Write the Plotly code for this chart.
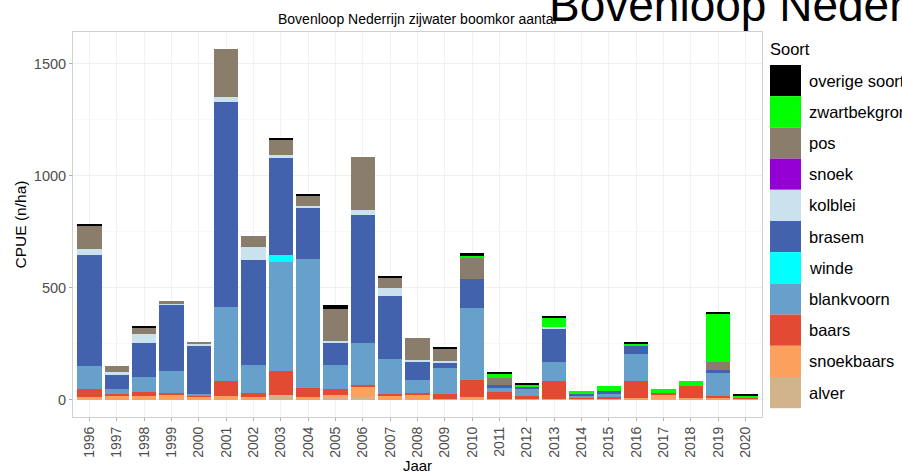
import plotly.graph_objects as go

# Jaren en soorten (stapelvolgorde van onder naar boven)
jaren = [str(j) for j in range(1996, 2021)]

alver = [3, 0, 0, 0, 0, 0, 0, 22, 0, 12, 12, 0, 0, 0, 0, 0, 0, 0, 0, 0, 0, 3, 0, 0, 0]
snoekbaars = [10, 15, 15, 19, 10, 18, 12, 0, 12, 10, 44, 20, 22, 3, 12, 3, 3, 3, 3, 3, 8, 17, 7, 8, 3]
baars = [33, 12, 18, 11, 9, 67, 18, 105, 40, 26, 11, 3, 8, 24, 74, 30, 12, 82, 8, 9, 77, 11, 55, 10, 8]
blankvoorn = [104, 18, 67, 97, 6, 327, 123, 487, 577, 108, 186, 157, 59, 114, 323, 19, 34, 82, 8, 17, 120, 0, 0, 101, 0]
winde = [0, 0, 0, 0, 0, 0, 0, 30, 0, 0, 0, 0, 0, 0, 0, 0, 0, 0, 0, 0, 0, 0, 0, 0, 0]
brasem = [494, 65, 153, 296, 213, 920, 469, 438, 227, 97, 570, 282, 81, 26, 131, 12, 6, 151, 8, 8, 33, 0, 0, 15, 0]
kolblei = [31, 12, 40, 4, 12, 22, 59, 12, 11, 7, 25, 35, 5, 4, 0, 0, 0, 5, 0, 0, 0, 0, 0, 0, 0]
snoek = [0] * 25
pos = [104, 27, 25, 15, 8, 211, 52, 68, 42, 146, 238, 47, 101, 56, 95, 33, 0, 0, 0, 0, 0, 0, 0, 34, 0]
zwartbekgrondel = [0, 0, 0, 0, 0, 0, 0, 0, 0, 0, 0, 0, 0, 0, 6, 19, 14, 42, 10, 23, 12, 14, 23, 214, 8]
overige = [6, 0, 9, 0, 0, 0, 0, 6, 9, 18, 0, 8, 0, 8, 15, 8, 5, 9, 0, 0, 6, 0, 0, 9, 4]

soorten = ["alver", "snoekbaars", "baars", "blankvoorn", "winde", "brasem",
           "kolblei", "snoek", "pos", "zwartbekgrondel", "overige soorten"]
waarden = [alver, snoekbaars, baars, blankvoorn, winde, brasem,
           kolblei, snoek, pos, zwartbekgrondel, overige]
kleuren = ["#D2B48C", "#FCA05E", "#E34A33", "#68A0CC", "#00FFFF", "#4262AE",
           "#C9E2EE", "#9400D3", "#8B7D6B", "#00FF00", "#000000"]

fig = go.Figure()
for naam, vals, kleur in zip(soorten, waarden, kleuren):
    fig.add_trace(go.Bar(
        x=jaren, y=vals, name=naam,
        marker=dict(color=kleur, line=dict(width=0)),
        showlegend=False,
    ))

# plot area in pixels: x 73-762, y 32-417
W, H = 902, 474
ml, mr, mt, mb = 73, 140, 32, 57
pw, ph = W - ml - mr, H - mt - mb

def px_x(x):
    return (x - ml) / pw

def px_y(y):
    return (H - mb - y) / ph

# eigen legenda met grote kleurvlakken
shapes = []
annotations = []
annotations.append(dict(text="Soort", x=px_x(768), y=px_y(49), xref="paper", yref="paper",
                        xanchor="left", yanchor="middle", showarrow=False,
                        font=dict(size=16.5, color="#000000")))
stap = 31.2
for i, (naam, kleur) in enumerate(zip(soorten[::-1], kleuren[::-1])):
    y0 = 65 + i * stap
    shapes.append(dict(type="rect", xref="paper", yref="paper",
                       x0=px_x(770), x1=px_x(801), y0=px_y(y0), y1=px_y(y0 + stap),
                       fillcolor=kleur, line=dict(width=0)))
    annotations.append(dict(text=naam, x=px_x(807), y=px_y(y0 + stap / 2),
                            xref="paper", yref="paper", xanchor="left", yanchor="middle",
                            showarrow=False, font=dict(size=16.5, color="#000000")))

# afgesneden grote titel rechtsboven
annotations.append(dict(text="Bovenloop Nederrijn zijwater boomkor aantal",
                        x=px_x(547), y=px_y(33), xref="paper", yref="paper",
                        xanchor="left", yanchor="bottom", showarrow=False,
                        font=dict(size=46, color="#000000")))

# kleine titel boven het plotvlak
annotations.append(dict(text="Bovenloop Nederrijn zijwater boomkor aantal",
                        x=px_x(417.5), y=px_y(19), xref="paper", yref="paper",
                        xanchor="center", yanchor="middle", showarrow=False,
                        font=dict(size=14, color="#000000")))

fig.update_layout(
    barmode="stack",
    bargap=0.11,
    width=W, height=H,
    margin=dict(l=ml, r=mr, t=mt, b=mb, autoexpand=False),
    paper_bgcolor="white",
    plot_bgcolor="white",
    font=dict(family="Liberation Sans, Arial, sans-serif", color="#000000"),
    xaxis=dict(
        title=dict(text="Jaar", font=dict(size=15, color="#000000"), standoff=2),
        automargin=False,
        tickangle=-90,
        tickfont=dict(size=14, color="#4D4D4D"),
        showgrid=True, gridcolor="#F2F2F2", gridwidth=1,
        showline=True, linecolor="#D0D0D0", mirror=True,
        ticks="outside", ticklen=3, tickcolor="#B0B0B0",
        range=[-0.6, 24.6],
    ),
    yaxis=dict(
        title=dict(text="CPUE (n/ha)", font=dict(size=15.5, color="#000000"), standoff=3),
        automargin=False,
        range=[-78, 1643],
        tickvals=[0, 500, 1000, 1500],
        tickfont=dict(size=14.5, color="#4D4D4D"),
        showgrid=True, gridcolor="#EFEFEF", gridwidth=1,
        minor=dict(tickvals=[250, 750, 1250], showgrid=True, gridcolor="#F7F7F7"),
        zeroline=False,
        showline=True, linecolor="#D0D0D0", mirror=True,
        ticks="outside", ticklen=3, tickcolor="#B0B0B0",
    ),
    shapes=shapes,
    annotations=annotations,
)

# body-marge van de pagina weghalen zodat de figuur op (0, 0) staat
fig.write_html("out.html", config={"displayModeBar": False},
               post_script="document.body.style.margin='0px';")
